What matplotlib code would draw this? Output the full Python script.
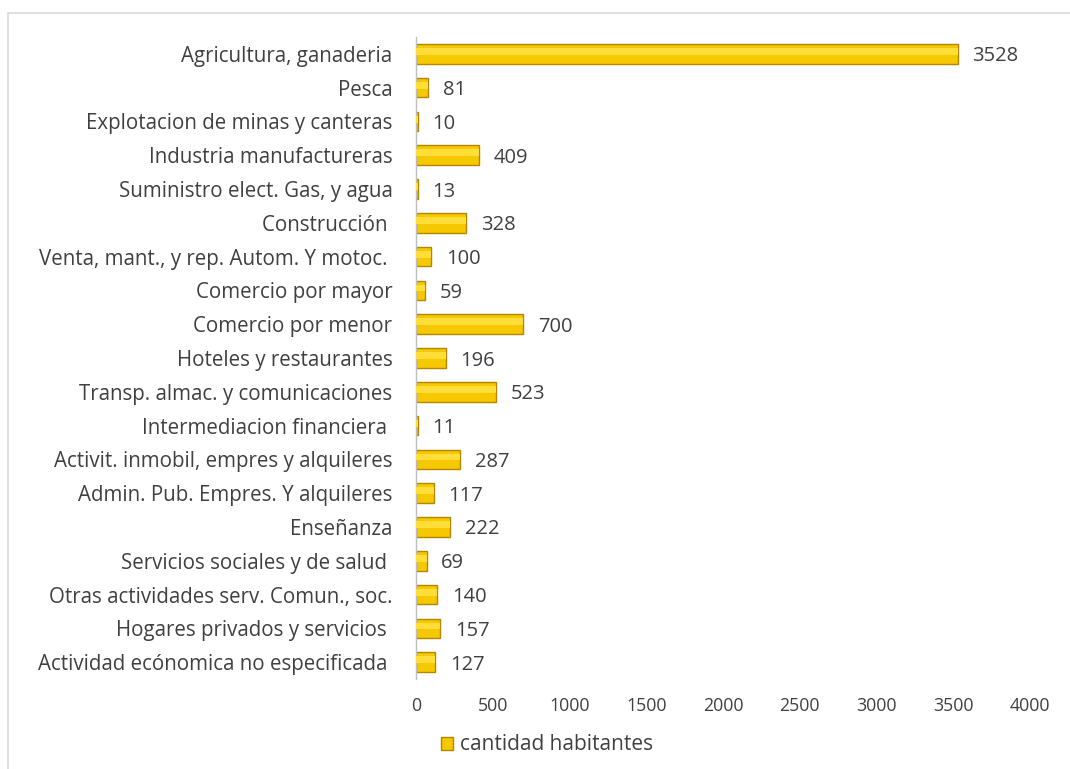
import matplotlib
matplotlib.use("Agg")
import matplotlib.pyplot as plt
from matplotlib.patches import Rectangle, Patch

categories = [
    "Agricultura, ganaderia",
    "Pesca",
    "Explotacion de minas y canteras",
    "Industria manufactureras",
    "Suministro elect. Gas, y agua",
    "Construcción ",
    "Venta, mant., y rep. Autom. Y motoc. ",
    "Comercio por mayor",
    "Comercio por menor",
    "Hoteles y restaurantes",
    "Transp. almac. y comunicaciones",
    "Intermediacion financiera ",
    "Activit. inmobil, empres y alquileres",
    "Admin. Pub. Empres. Y alquileres",
    "Enseñanza",
    "Servicios sociales y de salud ",
    "Otras actividades serv. Comun., soc.",
    "Hogares privados y servicios ",
    "Actividad ecónomica no especificada ",
]
values = [3528, 81, 10, 409, 13, 328, 100, 59, 700, 196, 523, 11, 287, 117, 222, 69, 140, 157, 127]
xticks = [0, 500, 1000, 1500, 2000, 2500, 3000, 3500, 4000]
series_name = "cantidad habitantes"

plt.rcParams['font.family'] = ['Open Sans', 'DejaVu Sans']
text_color = '#404040'

fig = plt.figure(figsize=(10.7, 7.69), dpi=100)
ax = fig.add_axes([416/1070, 1-679/769, (1030-416)/1070, (679-37)/769])

y = list(range(len(categories)))
bar_h = 0.58
ax.barh(y, values, height=bar_h, color='#F5C800', edgecolor='#B38600', linewidth=1.0, zorder=2)
# highlight strip for bevel look
ax.barh([v - bar_h*0.12 for v in y], values, height=bar_h*0.35, color='#FFDE3A', linewidth=0, zorder=3)

for yi, v in zip(y, values):
    ax.annotate(str(v), xy=(v, yi), xytext=(10.5, 0), textcoords='offset points',
                va='center_baseline', ha='left', fontsize=14.5, color=text_color)

ax.set_xlim(0, 4000)
ax.set_ylim(len(categories) - 0.5, -0.5)
ax.set_yticks(y)
ax.set_yticklabels(categories, fontsize=14.8, color=text_color, va='center_baseline')
ax.set_xticks(xticks)
ax.set_xticklabels([str(t) for t in xticks], fontsize=12.8, color=text_color)
ax.tick_params(axis='both', length=0)
ax.tick_params(axis='y', pad=17)
ax.tick_params(axis='x', pad=13)
for s in ['top', 'right', 'bottom']:
    ax.spines[s].set_visible(False)
ax.spines['left'].set_color('#BFBFBF')
ax.spines['left'].set_linewidth(1.0)

# chart border
fig.patches.append(Rectangle((8/1070, -0.05), 1.1, 1 - 13/769 + 0.05, transform=fig.transFigure,
                             fill=False, edgecolor='#D9D9D9', linewidth=1.2))

handle = Patch(facecolor='#F5C800', edgecolor='#B38600')
fig.legend([handle], [series_name], loc='center left', bbox_to_anchor=(422/1070, 1-745/769),
           frameon=False, fontsize=15, handlelength=0.6, handleheight=0.6, handletextpad=0.3,
           labelcolor=text_color)

fig.savefig('out.png', dpi=100)
